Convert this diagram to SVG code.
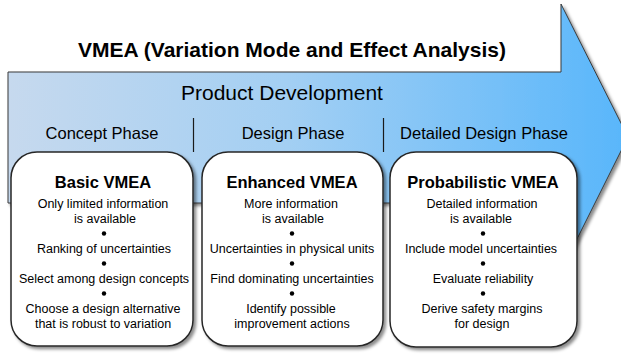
<svg xmlns="http://www.w3.org/2000/svg" width="621" height="356" viewBox="0 0 621 356">
<defs>
<linearGradient id="band" gradientUnits="userSpaceOnUse" x1="8" y1="0" x2="628" y2="0">
<stop offset="0" stop-color="#c6d9ee"/>
<stop offset="0.45" stop-color="#a3cff3"/>
<stop offset="1" stop-color="#58b6fb"/>
</linearGradient>
<filter id="sh" x="-10%" y="-10%" width="125%" height="125%">
<feDropShadow dx="2.5" dy="2.5" stdDeviation="1.5" flood-color="#000" flood-opacity="0.45"/>
</filter>
<style>
text{font-family:"Liberation Sans",Arial,sans-serif;fill:#000;text-anchor:middle}
.title{font-size:21px;font-weight:bold}
.pd{font-size:21px}
.phase{font-size:16.5px}
.bt{font-size:16.5px;font-weight:bold}
.tx{font-size:12.5px}
.box{fill:#fff;stroke:#262626;stroke-width:1.5;filter:url(#sh)}
.div{stroke:#1a1a1a;stroke-width:1.2}
</style>
</defs>
<rect width="621" height="356" fill="#fff"/>
<g id="arrow">
<polygon points="8,72 561,72 561,4 628,137 561,271 561,203 8,203" fill="url(#band)" stroke="#3a3a3a" stroke-width="1" filter="url(#sh)"/>
</g>
<g id="header">
<text class="title" x="292" y="57">VMEA (Variation Mode and Effect Analysis)</text>
<text class="pd" x="282" y="100">Product Development</text>
<text class="phase" x="102" y="139">Concept Phase</text>
<text class="phase" x="293" y="139">Design Phase</text>
<text class="phase" x="484" y="139">Detailed Design Phase</text>
</g>
<g id="connectors">
<line class="div" x1="193.5" y1="118" x2="193.5" y2="152"/>
<line class="div" x1="383.5" y1="118" x2="383.5" y2="152"/>
</g>
<g id="basic">
<rect class="box" x="11" y="152" width="182" height="194" rx="26"/>
<text class="bt" x="103" y="188">Basic VMEA</text>
<text class="tx" x="103" y="207.5">Only limited information</text>
<text class="tx" x="105" y="222.5">is available</text>
<circle cx="104" cy="233.5" r="2.2"/>
<text class="tx" x="104" y="252.5">Ranking of uncertainties</text>
<circle cx="104" cy="263.5" r="2.2"/>
<text class="tx" x="104" y="282.5">Select among design concepts</text>
<circle cx="104" cy="293.5" r="2.2"/>
<text class="tx" x="103" y="312.5">Choose a design alternative</text>
<text class="tx" x="103" y="327.5">that is robust to variation</text>
</g>
<g id="enhanced">
<rect class="box" x="202" y="152" width="181" height="194" rx="26"/>
<text class="bt" x="292" y="188">Enhanced VMEA</text>
<text class="tx" x="291" y="207.5">More information</text>
<text class="tx" x="293" y="222.5">is available</text>
<circle cx="292" cy="233.5" r="2.2"/>
<text class="tx" x="292" y="252.5">Uncertainties in physical units</text>
<circle cx="292" cy="263.5" r="2.2"/>
<text class="tx" x="292" y="282.5">Find dominating uncertainties</text>
<circle cx="292" cy="293.5" r="2.2"/>
<text class="tx" x="291" y="312.5">Identify possible</text>
<text class="tx" x="292" y="327.5">improvement actions</text>
</g>
<g id="probabilistic">
<rect class="box" x="390" y="152" width="187" height="195" rx="26"/>
<text class="bt" x="483" y="188">Probabilistic VMEA</text>
<text class="tx" x="482" y="207.5">Detailed information</text>
<text class="tx" x="481" y="222.5">is available</text>
<circle cx="483" cy="233.5" r="2.2"/>
<text class="tx" x="481" y="252.5">Include model uncertainties</text>
<circle cx="483" cy="263.5" r="2.2"/>
<text class="tx" x="483" y="282.5">Evaluate reliability</text>
<circle cx="483" cy="293.5" r="2.2"/>
<text class="tx" x="482" y="312.5">Derive safety margins</text>
<text class="tx" x="482" y="327.5">for design</text>
</g>
</svg>
